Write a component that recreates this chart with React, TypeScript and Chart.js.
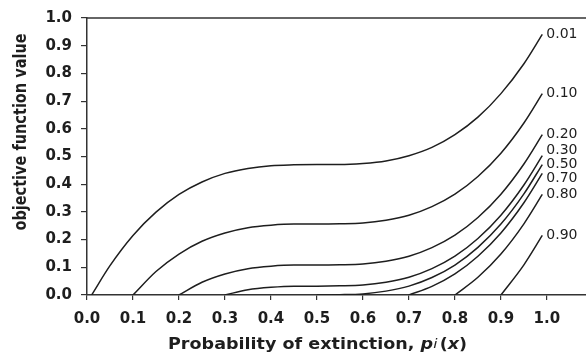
import React, { useEffect, useRef } from 'react';
import { Chart, registerables } from 'chart.js';

Chart.register(...registerables);

// curve labels (parameter values) and the starting probability of each curve
const curveLabels = ['0.01', '0.10', '0.20', '0.30', '0.50', '0.70', '0.80', '0.90'];
const curveStarts = [0.01, 0.1, 0.2, 0.3, 0.5, 0.7, 0.8, 0.9];

// sampled probabilities (x) after each curve's start point
const probGrid = [0.05, 0.1, 0.15, 0.2, 0.25, 0.3, 0.35, 0.4, 0.45, 0.5, 0.55, 0.6, 0.65, 0.7, 0.75, 0.8, 0.85, 0.9, 0.95, 0.99];

// objective function values
const y001 = [0, 0.106, 0.215, 0.299, 0.363, 0.408, 0.439, 0.457, 0.467, 0.47, 0.471, 0.471, 0.475, 0.484, 0.503, 0.533, 0.579, 0.642, 0.727, 0.835, 0.941];
const y010 = [0, 0.085, 0.148, 0.194, 0.224, 0.243, 0.252, 0.256, 0.256, 0.257, 0.26, 0.27, 0.288, 0.319, 0.364, 0.428, 0.512, 0.621, 0.727];
const y020 = [0, 0.046, 0.076, 0.095, 0.104, 0.108, 0.108, 0.109, 0.112, 0.122, 0.14, 0.171, 0.216, 0.28, 0.364, 0.473, 0.579];
const y030 = [0, 0.019, 0.028, 0.032, 0.032, 0.033, 0.036, 0.046, 0.064, 0.095, 0.14, 0.204, 0.288, 0.397, 0.503];
const y050 = [0, 0.001, 0.004, 0.014, 0.032, 0.063, 0.108, 0.172, 0.256, 0.365, 0.471];
const y070 = [0, 0.031, 0.076, 0.14, 0.224, 0.333, 0.439];
const y080 = [0, 0.064, 0.148, 0.257, 0.363];
const y090 = [0, 0.109, 0.215];

const curveValues = [y001, y010, y020, y030, y050, y070, y080, y090];

const xTickValues = [0, 0.1, 0.2, 0.3, 0.4, 0.5, 0.6, 0.7, 0.8, 0.9, 1.0];
const yTickValues = [0, 0.1, 0.2, 0.3, 0.4, 0.5, 0.6, 0.7, 0.8, 0.9, 1.0];

const yTitle = 'objective function value';
const xTitleParts = [
  { text: 'Probability of extinction, ', font: 'bold 15px "DejaVu Sans"' },
  { text: 'p', font: 'italic bold 15px "DejaVu Sans"' },
  { text: 'i', font: 'italic 13px "DejaVu Sans"' },
  { text: '(', font: 'bold 15px "DejaVu Sans"' },
  { text: 'x', font: 'italic bold 15px "DejaVu Sans"' },
  { text: ')', font: 'bold 15px "DejaVu Sans"' },
];

const INK = '#1e1e1e';

const decorPlugin = {
  id: 'decor',
  afterDatasetsDraw(chart: any) {
    const { ctx, chartArea } = chart;
    ctx.save();
    // top border of the frame
    ctx.strokeStyle = '#333';
    ctx.lineWidth = 1.5;
    ctx.beginPath();
    ctx.moveTo(chartArea.left, chartArea.top);
    ctx.lineTo(chartArea.right, chartArea.top);
    ctx.stroke();

    // curve labels at the right end of each curve, spread so they do not overlap
    const items = chart.data.datasets.map((ds: any, i: number) => {
      const meta = chart.getDatasetMeta(i);
      const last = meta.data[meta.data.length - 1];
      return { label: ds.label, x: last.x, y: last.y };
    });
    const sorted = [...items].sort((a: any, b: any) => a.y - b.y);
    const gap = 14;
    for (let iter = 0; iter < 50; iter++) {
      let moved = false;
      for (let k = 1; k < sorted.length; k++) {
        const d = sorted[k].y - sorted[k - 1].y;
        if (d < gap) {
          const push = (gap - d) / 2;
          sorted[k - 1].y -= push;
          sorted[k].y += push;
          moved = true;
        }
      }
      if (!moved) break;
    }
    ctx.fillStyle = INK;
    ctx.font = '14px "DejaVu Sans"';
    ctx.textAlign = 'left';
    ctx.textBaseline = 'middle';
    for (const it of sorted) {
      ctx.fillText(it.label, it.x + 4, it.y);
    }

    // y-axis title
    ctx.save();
    ctx.translate(22, 132);
    ctx.scale(1.17, 1);
    ctx.rotate(-Math.PI / 2);
    ctx.font = 'bold 14.5px "DejaVu Sans"';
    ctx.textAlign = 'center';
    ctx.textBaseline = 'middle';
    ctx.fillText(yTitle, 0, 0);
    ctx.restore();

    // x-axis title, with italic parts
    ctx.save();
    ctx.translate(168, 345);
    ctx.scale(1.17, 1);
    ctx.textAlign = 'left';
    ctx.textBaseline = 'middle';
    let cx = 0;
    for (const part of xTitleParts) {
      ctx.font = part.font;
      ctx.fillText(part.text, cx, 0);
      cx += ctx.measureText(part.text).width + (part.text === 'i' ? 2 : 0);
    }
    ctx.restore();
    ctx.restore();
  },
};

export default function App() {
  const canvasRef = useRef<HTMLCanvasElement | null>(null);

  useEffect(() => {
    if (!canvasRef.current) return;
    const datasets = curveLabels.map((label, i) => {
      const start = curveStarts[i];
      const xs = [start, ...probGrid.filter((p) => p > start + 1e-9)];
      const ys = curveValues[i];
      return {
        label,
        data: xs.map((x, k) => ({ x, y: ys[k] })),
        showLine: true,
        borderColor: INK,
        borderWidth: 1.5,
        pointRadius: 0,
        pointHoverRadius: 0,
        fill: false,
        cubicInterpolationMode: 'monotone' as const,
      };
    });

    const tickFont = { family: '"DejaVu Sans"', size: 15, weight: 'bold' as const };

    const chart = new Chart(canvasRef.current, {
      type: 'scatter',
      data: { datasets },
      options: {
        animation: false,
        responsive: false,
        maintainAspectRatio: false,
        layout: { padding: { top: 16, right: 0, bottom: 0, left: 0 } },
        plugins: {
          legend: { display: false },
          tooltip: { enabled: false },
          title: { display: false },
        },
        scales: {
          x: {
            type: 'linear',
            min: 0,
            max: 1.085,
            afterBuildTicks: (scale: any) => {
              scale.ticks = xTickValues.map((v) => ({ value: v }));
            },
            afterFit: (scale: any) => {
              scale.height = 67;
            },
            ticks: {
              font: tickFont,
              color: INK,
              padding: 10,
              maxRotation: 0,
              autoSkip: false,
              callback: (v: any) => Number(v).toFixed(1),
            },
            grid: {
              display: true,
              drawOnChartArea: false,
              drawTicks: true,
              tickLength: 5,
              color: '#333',
              lineWidth: 1.2,
            },
            border: { display: true, color: '#333', width: 1.5 },
          },
          y: {
            type: 'linear',
            min: 0,
            max: 1,
            afterBuildTicks: (scale: any) => {
              scale.ticks = yTickValues.map((v) => ({ value: v }));
            },
            afterFit: (scale: any) => {
              scale.width = 87;
            },
            ticks: {
              font: tickFont,
              color: INK,
              padding: 9,
              autoSkip: false,
              callback: (v: any) => Number(v).toFixed(1),
            },
            grid: {
              display: true,
              drawOnChartArea: false,
              drawTicks: true,
              tickLength: 6,
              color: '#333',
              lineWidth: 1.2,
            },
            border: { display: true, color: '#333', width: 1.5 },
          },
        },
      },
      plugins: [decorPlugin],
    });
    return () => chart.destroy();
  }, []);

  return (
    <div style={{ position: 'fixed', left: 0, top: 0, width: 586, height: 362, background: '#fff' }}>
      <canvas ref={canvasRef} width={586} height={362} style={{ display: 'block' }} />
    </div>
  );
}
